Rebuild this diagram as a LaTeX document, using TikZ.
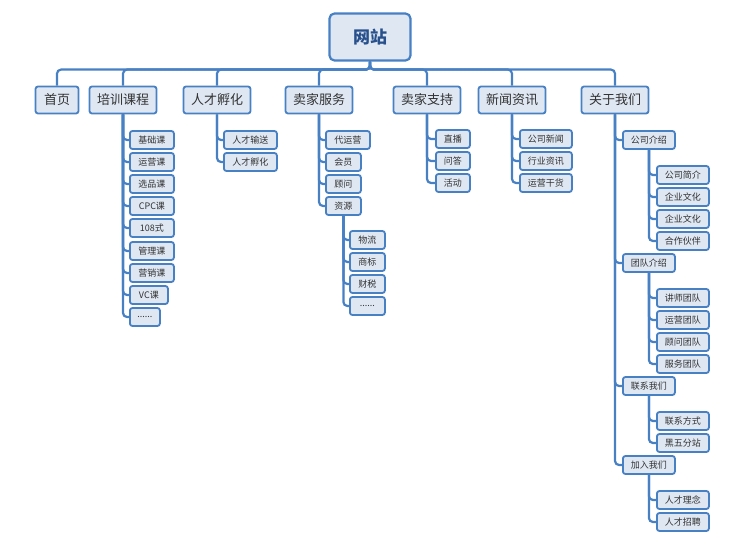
\documentclass[tikz,border=0pt]{standalone}
\usepackage{fontspec}
\setmainfont{Noto Sans CJK SC}
\newcommand\mydots{......}
\begin{document}
\begin{tikzpicture}[x=1pt,y=-1pt,
  ln/.style={draw=lc,line width=2.2pt,rounded corners=4pt},
  bx/.style={draw=lc,line width=1.8pt,fill=bf,rounded corners=2.5pt,inner sep=0pt,text=tc},
  l1/.style={bx,minimum width=67,minimum height=27,font=\fontsize{13}{13}\selectfont},
  c/.style={bx,minimum height=18,font=\fontsize{9}{9}\selectfont}]
\definecolor{lc}{RGB}{72,128,196}
\definecolor{bf}{RGB}{222,231,242}
\definecolor{tc}{RGB}{50,50,50}
\definecolor{rt}{RGB}{40,80,140}
\useasboundingbox (0,0) rectangle (754,545);
\node[bx,minimum width=81,minimum height=47,rounded corners=5pt,line width=2.2pt,font=\fontsize{17}{17}\selectfont\bfseries,text=rt] (root) at (370,37) {网站};
\node[l1,minimum width=43] (a1) at (57,100) {首页};
\node[l1] (a2) at (123,100) {培训课程};
\node[l1] (a3) at (217,100) {人才孵化};
\node[l1] (a4) at (319,100) {卖家服务};
\node[l1] (a5) at (427,100) {卖家支持};
\node[l1] (a6) at (512,100) {新闻资讯};
\node[l1] (a7) at (615,100) {关于我们};
\foreach \n in {a1,a2,a3,a4,a5,a6,a7}
  \draw[ln] (root.south) -- ++(0,8) -| (\n.north);
% 培训课程
\foreach \t/\w/\y [count=\i] in {基础课/44/140,运营课/44/162,选品课/44/184,CPC课/44/206,108式/44/228,管理课/44/251,营销课/44/273,VC课/38/295,\mydots/30/317}{
  \node[c,minimum width=\w,anchor=west] (b\i) at (129,\y) {\t};
  \draw[ln] (a2.south) |- (b\i.west);}
% 人才孵化
\foreach \t/\y [count=\i] in {人才输送/140,人才孵化/162}{
  \node[c,minimum width=53,anchor=west] (h\i) at (223,\y) {\t};
  \draw[ln] (a3.south) |- (h\i.west);}
% 卖家服务
\foreach \t/\w/\y [count=\i] in {代运营/44/140,会员/35/162,顾问/35/184,资源/35/206}{
  \node[c,minimum width=\w,anchor=west] (s\i) at (325,\y) {\t};
  \draw[ln] (a4.south) |- (s\i.west);}
\foreach \t/\y [count=\i] in {物流/240,商标/262,财税/284,\mydots/306}{
  \node[c,minimum width=35,anchor=west] (r\i) at (349,\y) {\t};
  \draw[ln] (s4.south) |- (r\i.west);}
% 卖家支持
\foreach \t/\y [count=\i] in {直播/139,问答/161,活动/183}{
  \node[c,minimum width=34,anchor=west] (z\i) at (435,\y) {\t};
  \draw[ln] (a5.south) |- (z\i.west);}
% 新闻资讯
\foreach \t/\y [count=\i] in {公司新闻/139,行业资讯/161,运营干货/183}{
  \node[c,minimum width=52,anchor=west] (n\i) at (519,\y) {\t};
  \draw[ln] (a6.south) |- (n\i.west);}
% 关于我们
\foreach \t/\y [count=\i] in {公司介绍/140,团队介绍/263,联系我们/386,加入我们/465}{
  \node[c,minimum width=52,anchor=west] (g\i) at (622,\y) {\t};
  \draw[ln] (a7.south) |- (g\i.west);}
\foreach \t/\y [count=\i] in {公司简介/175,企业文化/197,企业文化/219,合作伙伴/241}{
  \node[c,minimum width=52,anchor=west] (ga\i) at (656,\y) {\t};
  \draw[ln] (g1.south) |- (ga\i.west);}
\foreach \t/\y [count=\i] in {讲师团队/298,运营团队/320,顾问团队/342,服务团队/364}{
  \node[c,minimum width=52,anchor=west] (gb\i) at (656,\y) {\t};
  \draw[ln] (g2.south) |- (gb\i.west);}
\foreach \t/\y [count=\i] in {联系方式/421,黑五分站/443}{
  \node[c,minimum width=52,anchor=west] (gc\i) at (656,\y) {\t};
  \draw[ln] (g3.south) |- (gc\i.west);}
\foreach \t/\y [count=\i] in {人才理念/500,人才招聘/522}{
  \node[c,minimum width=52,anchor=west] (gd\i) at (656,\y) {\t};
  \draw[ln] (g4.south) |- (gd\i.west);}
\end{tikzpicture}
\end{document}
